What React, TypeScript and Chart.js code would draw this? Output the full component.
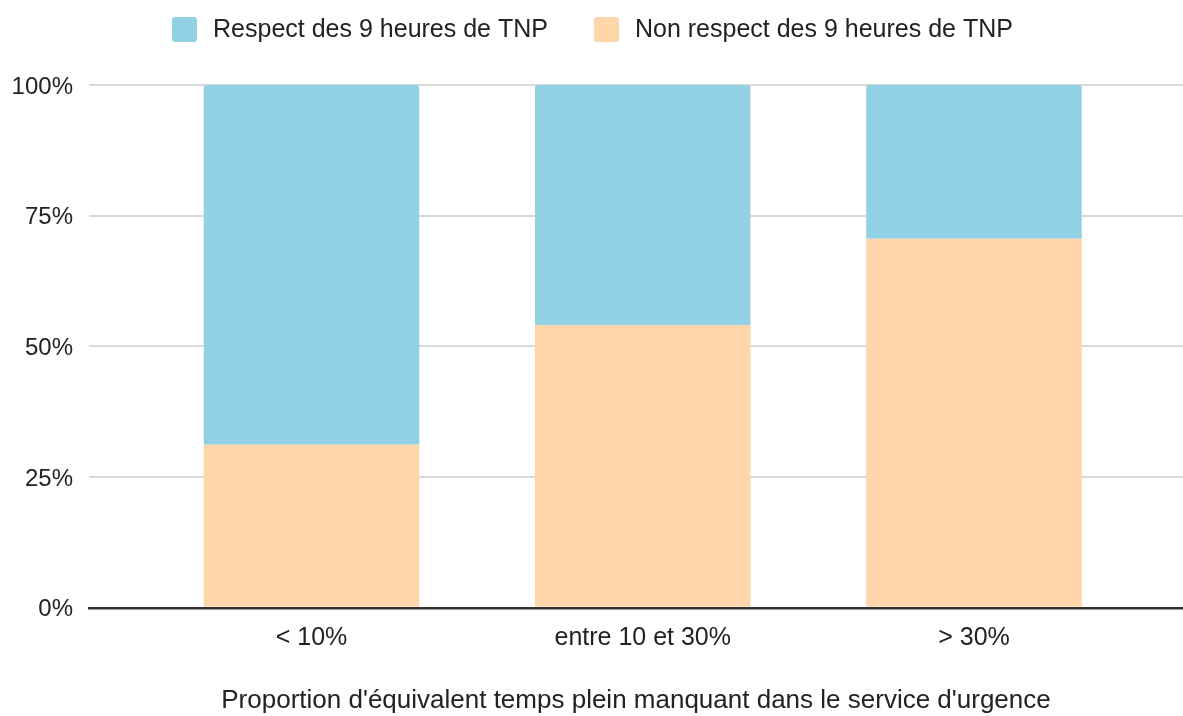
import React, { useEffect, useRef } from "react";
import { Chart, registerables } from "chart.js";

Chart.register(...registerables);

const categories = ["< 10%", "entre 10 et 30%", "> 30%"];
const nonRespect = [31.2, 54.1, 70.6];
const respect = [68.8, 45.9, 29.4];
const yTicks = [0, 25, 50, 75, 100];
const seriesLabels = ["Respect des 9 heures de TNP", "Non respect des 9 heures de TNP"];

const BLUE = "#92d1e3";
const ORANGE = "#fed6aa";
const TEXT = "#222222";
const FONT = '"Liberation Sans", Arial, Helvetica, sans-serif';

const legendPlugin = {
  id: "customLegend",
  afterDraw(chart: any) {
    const ctx = chart.ctx;
    ctx.save();
    ctx.font = `25px ${FONT}`;
    ctx.textBaseline = "middle";
    ctx.textAlign = "left";
    const dsets = [...chart.data.datasets].reverse();
    const box = 25;
    const gapText = 16;
    const gapItem = 46;
    const widths = dsets.map((d: any) => box + gapText + ctx.measureText(d.label).width);
    const total = widths.reduce((a: number, b: number) => a + b, 0) + gapItem * (dsets.length - 1);
    let x = (chart.width - total) / 2 + 1;
    const cy = 29.5;
    dsets.forEach((d: any, i: number) => {
      ctx.fillStyle = d.backgroundColor;
      ctx.beginPath();
      (ctx as any).roundRect(x, cy - box / 2, box, box, 3);
      ctx.fill();
      ctx.fillStyle = TEXT;
      ctx.fillText(d.label, x + box + gapText, cy + 1);
      x += widths[i] + gapItem;
    });
    ctx.restore();
  },
};

export default function App() {
  const ref = useRef<HTMLCanvasElement>(null);
  useEffect(() => {
    document.body.style.margin = "0";
    const chart = new Chart(ref.current!, {
      type: "bar",
      data: {
        datasets: [
          {
            label: seriesLabels[1],
            data: nonRespect.map((v, i) => ({ x: i, y: v })),
            backgroundColor: ORANGE,
            borderWidth: 0,
          },
          {
            label: seriesLabels[0],
            data: respect.map((v, i) => ({ x: i, y: v })),
            backgroundColor: BLUE,
            borderWidth: 0,
            borderRadius: { topLeft: 3, topRight: 3, bottomLeft: 0, bottomRight: 0 },
            borderSkipped: false,
          },
        ],
      },
      options: {
        animation: false,
        responsive: true,
        maintainAspectRatio: false,
        layout: { padding: { top: 85, left: 12, right: 0, bottom: 0 } },
        datasets: { bar: { categoryPercentage: 1, barPercentage: 0.6506 } },
        plugins: {
          legend: { display: false },
          tooltip: { enabled: false },
        },
        scales: {
          x: {
            type: "linear",
            stacked: true,
            offset: false,
            min: -0.6717,
            max: 2.631,
            z: 1,
            afterBuildTicks: (scale: any) => {
              scale.ticks = categories.map((_, i) => ({ value: i }));
            },
            ticks: {
              autoSkip: false,
              color: TEXT,
              font: { family: FONT, size: 25 },
              padding: 15,
              callback: (v: any) => categories[v as number] ?? "",
            },
            grid: { display: false, drawTicks: false, offset: false },
            border: { display: true, color: "#333333", width: 2.5 },
            title: {
              display: true,
              text: "Proportion d'équivalent temps plein manquant dans le service d'urgence",
              color: TEXT,
              font: { family: FONT, size: 26 },
              padding: { top: 17, bottom: 0 },
            },
          },
          y: {
            stacked: true,
            min: 0,
            max: 100,
            afterBuildTicks: (scale: any) => {
              scale.ticks = yTicks.map((v) => ({ value: v }));
            },
            afterFit: (scale: any) => {
              scale.width = 77;
            },
            ticks: {
              color: TEXT,
              font: { family: FONT, size: 24 },
              padding: 16,
              labelOffset: 2,
              callback: (v: any) => `${v}%`,
            },
            grid: {
              color: (c: any) => (c.tick && c.tick.value === 0 ? "rgba(0,0,0,0)" : "#d9d9d9"),
              lineWidth: 2,
              drawTicks: false,
            },
            border: { display: false },
          },
        },
      },
      plugins: [legendPlugin],
    } as any);
    return () => chart.destroy();
  }, []);
  return (
    <div style={{ width: 1183, height: 716, position: "relative" }}>
      <canvas ref={ref} />
    </div>
  );
}
